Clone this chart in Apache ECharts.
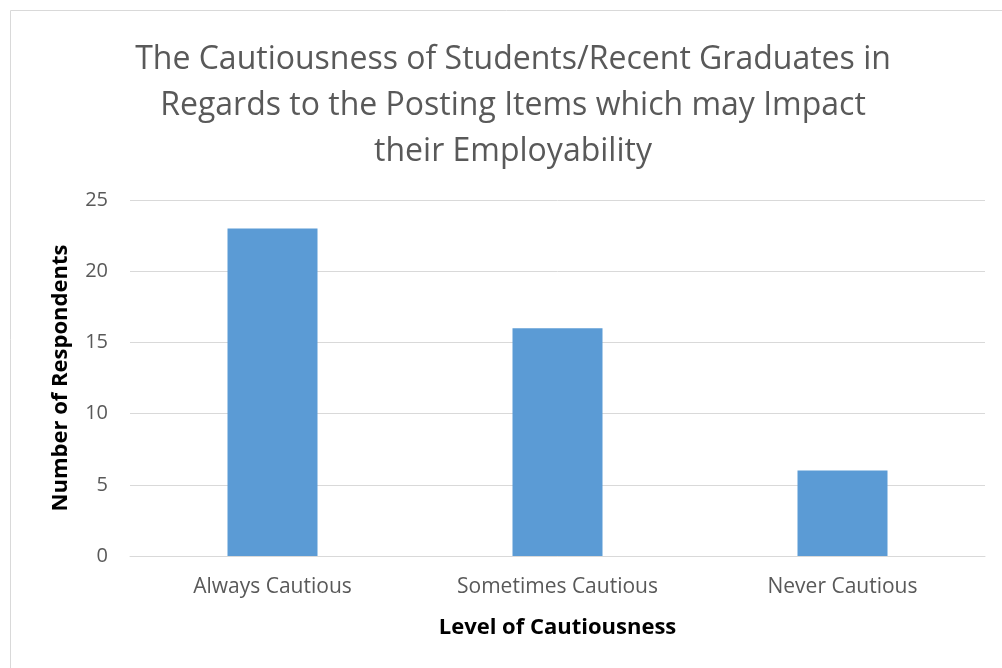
<!DOCTYPE html>
<html>
<head>
<meta charset="utf-8">
<script src="https://cdn.jsdelivr.net/npm/echarts@6/dist/echarts.min.js"></script>
<style>
html, body { margin: 0; padding: 0; background: #fff; }
#chart { width: 1002px; height: 668px; }
</style>
</head>
<body>
<div id="chart"></div>
<script>
var categories = ["Always Cautious", "Sometimes Cautious", "Never Cautious"];
var respondents = [23, 16, 6];
var yTicks = [0, 5, 10, 15, 20, 25];

var chart = echarts.init(document.getElementById("chart"));
var font = "'Open Sans', sans-serif";

var option = {
  animation: false,
  title: {
    text: "The Cautiousness of Students/Recent Graduates in\nRegards to the Posting Items which may Impact\ntheir Employability",
    left: 508,
    top: 32,
    textAlign: "center",
    textStyle: {
      fontFamily: font,
      fontSize: 32,
      fontWeight: "normal",
      color: "#595959",
      lineHeight: 46
    }
  },
  graphic: [{
    type: "rect",
    shape: { x: 10.5, y: 10.5, width: 1000, height: 700 },
    style: { fill: "none", stroke: "#d9d9d9", lineWidth: 1 },
    silent: true
  }],
  grid: { left: 130, right: 17, top: 200, bottom: 112 },
  xAxis: {
    type: "category",
    data: categories,
    name: "Level of Cautiousness",
    nameLocation: "middle",
    nameGap: 61,
    nameTextStyle: { fontFamily: font, fontSize: 22, fontWeight: "bold", color: "#000" },
    axisLine: { lineStyle: { color: "#d9d9d9", width: 1 } },
    axisTick: { show: false },
    axisLabel: { fontFamily: font, fontSize: 21, color: "#595959", margin: 21 }
  },
  yAxis: {
    type: "value",
    min: yTicks[0],
    max: yTicks[yTicks.length - 1],
    interval: 5,
    name: "Number of Respondents",
    nameLocation: "middle",
    nameGap: 58,
    nameTextStyle: { fontFamily: font, fontSize: 22, fontWeight: "bold", color: "#000" },
    axisLine: { show: false },
    axisTick: { show: false },
    axisLabel: { fontFamily: font, fontSize: 20, color: "#595959", margin: 22 },
    splitLine: { lineStyle: { color: "#d9d9d9", width: 1 } }
  },
  series: [{
    type: "bar",
    data: respondents,
    barWidth: 90,
    itemStyle: { color: "#5b9bd5" }
  }]
};

chart.setOption(option);
</script>
</body>
</html>
